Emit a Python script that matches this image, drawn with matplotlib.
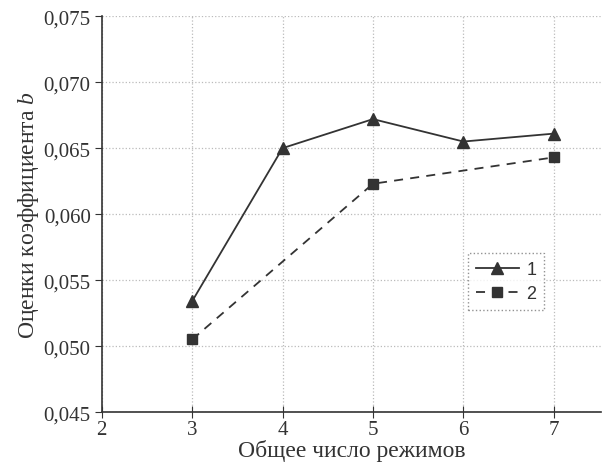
import numpy as np
import matplotlib.pyplot as plt
from matplotlib.ticker import FuncFormatter

# ============================================================
# DATA
# ============================================================

x1 = [3, 4, 5, 6, 7]
y1 = [0.0534, 0.0650, 0.0672, 0.0655, 0.0661]

x2 = [3, 5, 7]
y2 = [0.0505, 0.0623, 0.0643]

labels = ["1", "2"]

x_ticks = [2, 3, 4, 5, 6, 7]
y_ticks = [0.045, 0.050, 0.055, 0.060, 0.065, 0.070, 0.075]

# ============================================================
# STYLE
# ============================================================

plt.rcParams["font.family"] = ["Liberation Serif", "DejaVu Serif"]
plt.rcParams["mathtext.fontset"] = "custom"
plt.rcParams["mathtext.it"] = "Liberation Serif:italic"
plt.rcParams["mathtext.rm"] = "Liberation Serif"

INK = "#333333"
GRID = "#bbbbbb"

# ============================================================
# PLOT
# ============================================================

fig = plt.figure(figsize=(6.02, 4.77), dpi=100)
ax = fig.add_axes([0.169, 0.134, 0.829, 0.830])

ax.plot(x1, y1, color=INK, linewidth=1.3, marker="^",
        markersize=8, label=labels[0])
ax.plot(x2, y2, color=INK, linewidth=1.3, linestyle=(0, (5, 4)),
        marker="s", markersize=7, label=labels[1])

ax.set_xlim(2, 7.52)
ax.set_ylim(0.045, 0.075)
ax.set_xticks(x_ticks)
ax.set_yticks(y_ticks)

ax.yaxis.set_major_formatter(
    FuncFormatter(lambda v, p: f"{v:.3f}".replace(".", ","))
)

ax.grid(True, color=GRID, linestyle=":", linewidth=0.9)
ax.set_axisbelow(True)

for side in ["top", "right"]:
    ax.spines[side].set_visible(False)
for side in ["left", "bottom"]:
    ax.spines[side].set_color(INK)
    ax.spines[side].set_linewidth(1.2)

ax.tick_params(axis="y", direction="out", length=5, labelsize=15,
               colors=INK, pad=3)
ax.tick_params(axis="x", direction="inout", length=9, labelsize=15,
               colors=INK, pad=1)

ax.set_xlabel("Общее число режимов", fontsize=17, color=INK, labelpad=0)
ax.set_ylabel("Оценки коэффициента $\\it{b}$", fontsize=17, color=INK,
              labelpad=2)

leg = ax.legend(
    loc="center",
    bbox_to_anchor=(0.81, 0.33),
    prop={"family": "Liberation Sans", "size": 13},
    frameon=True,
    fancybox=False,
    handlelength=2.4,
    handletextpad=0.4,
    borderpad=0.45,
    labelspacing=0.4,
)
leg.get_frame().set_edgecolor("#777777")
leg.get_frame().set_linestyle(":")
leg.get_frame().set_linewidth(1.0)
for t in leg.get_texts():
    t.set_color(INK)

fig.savefig("out.png", dpi=100)
